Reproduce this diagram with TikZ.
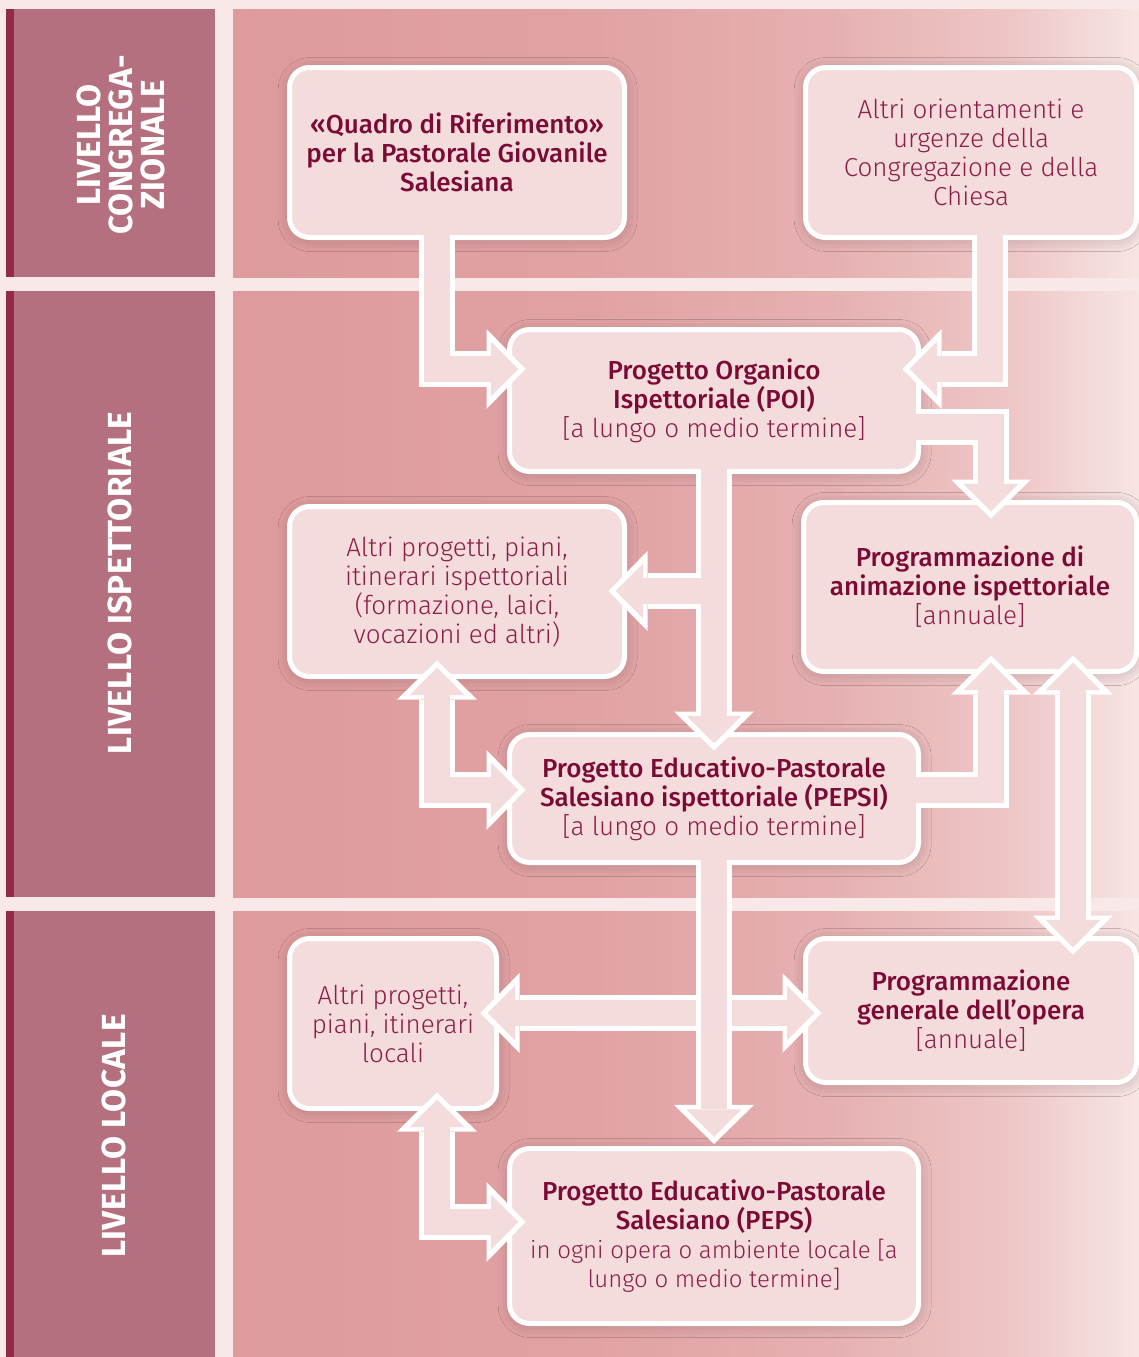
\documentclass[tikz,border=0pt]{standalone}
\usepackage{fontspec}
\usepackage{xcolor}
\usetikzlibrary{arrows.meta,shadows.blur}
\newfontfamily\medfont{Fira Sans Medium}
\newfontfamily\lightfont{Fira Sans Light}
\newfontfamily\bandfont{Fira Sans}[UprightFont={* Bold}, LetterSpace=1]
\definecolor{pageBg}{HTML}{F8E9E8}
\definecolor{bandCol}{HTML}{B4707E}
\definecolor{stripeCol}{HTML}{922A4C}
\definecolor{boxFill}{HTML}{F5DCDC}
\definecolor{textDark}{HTML}{7C0A36}
\definecolor{textLight}{HTML}{8C1E4A}
\definecolor{panelA}{HTML}{DE9A9C}
\definecolor{panelB}{HTML}{E1A2A4}
\definecolor{panelC}{HTML}{E6B0B1}
\definecolor{panelD}{HTML}{EEC6C6}
\definecolor{panelE}{HTML}{F7E5E4}
\pgfdeclarehorizontalshading{panelShade}{100bp}{color(0bp)=(panelA); color(25bp)=(panelA); color(45bp)=(panelB); color(58bp)=(panelC); color(68bp)=(panelD); color(75bp)=(panelE); color(100bp)=(panelE)}
\newcommand\hdtxt{\medfont\color{textDark}}
\newcommand\smalltxt{\fontsize{18}{21.75}\selectfont}
\tikzset{
  tipO/.tip={Triangle[length=29.25pt, width=60pt, line width=0pt]},
  tipI/.tip={Triangle[length=20.6pt, width=41.2pt, line width=0pt]}
}

\begin{document}
\begin{tikzpicture}[
    x=0.75pt, y=-0.75pt,
    box/.style={rectangle, rounded corners=15pt, draw=white, line width=3.75pt, fill=boxFill, outer sep=0pt, inner sep=2pt, align=center, text=textLight, font=\lightfont\fontsize{19.5}{21.75}\selectfont, blur shadow={shadow xshift=0.5pt, shadow yshift=-1.5pt, shadow blur radius=9pt, shadow opacity=22}},
    lvl/.style={rotate=90, align=center, text=white, font=\bandfont\fontsize{25}{24}\selectfont},
    fatout/.style={draw=white, line width=27pt, line join=miter, shorten <=-2.25pt, shorten >=-12pt, -tipO},
    fatin/.style={draw=boxFill, line width=19.5pt, line join=miter, shorten <=-2.25pt, shorten >=-6.7pt, -tipI},
    twoout/.style={fatout, shorten <=-12pt, tipO-tipO},
    twoin/.style={fatin, shorten <=-6.7pt, tipI-tipI}
]

% Background, bands and panels
\fill[pageBg] (0,0) rectangle (1139,1357);
\shade[shading=panelShade] (233,9) rectangle (1139,277);
\shade[shading=panelShade] (233,291) rectangle (1139,897);
\shade[shading=panelShade] (233,911) rectangle (1139,1357);
\fill[bandCol] (6,9) rectangle (215,277);
\fill[bandCol] (6,291) rectangle (215,897);
\fill[bandCol] (6,911) rectangle (215,1357);
\fill[stripeCol] (6,9) rectangle (14,277);
\fill[stripeCol] (6,291) rectangle (14,897);
\fill[stripeCol] (6,911) rectangle (14,1357);

% Level labels
\node[lvl] (lvlCong) at (121,145) {LIVELLO\\CONGREGA-\\ZIONALE};
\node[lvl] (lvlIsp)  at (120,583) {LIVELLO ISPETTORIALE};
\node[lvl] (lvlLoc)  at (114,1136) {LIVELLO LOCALE};

% Congregational level
\node[box, minimum width=251.25pt, minimum height=127.5pt] (quadro) at (457,152.5)
    {\hdtxt «Quadro di Riferimento»\\\hdtxt per la Pastorale Giovanile\\\hdtxt Salesiana};
\node[box, minimum width=248.25pt, minimum height=127.5pt] (altriOr) at (971,152.5)
    {Altri orientamenti e\\urgenze della\\Congregazione e della\\Chiesa};

% Provincial level
\node[box, minimum width=306.75pt, minimum height=106.5pt] (poi) at (714,400.5)
    {\hdtxt Progetto Organico\\\hdtxt Ispettoriale (POI)\\{}[a lungo o medio termine]};
\node[box, minimum width=249.75pt, minimum height=126.75pt] (progAn) at (970,587)
    {\hdtxt Programmazione di\\\hdtxt animazione ispettoriale\\{}[annuale]};
\node[box, minimum width=251.25pt, minimum height=127.5pt] (altriIsp) at (457,591.5)
    {Altri progetti, piani,\\itinerari ispettoriali\\(formazione, laici,\\vocazioni ed altri)};
\node[box, minimum width=306.75pt, minimum height=96pt] (pepsi) at (714,798.5)
    {\hdtxt Progetto Educativo-Pastorale\\\hdtxt Salesiano ispettoriale (PEPSI)\\{}[a lungo o medio termine]};

% Local level
\node[box, minimum width=155.25pt, minimum height=127.5pt] (altriLoc) at (393,1023.5)
    {Altri progetti,\\piani, itinerari\\locali};
\node[box, minimum width=248.25pt, minimum height=108pt] (progGen) at (971,1010.5)
    {\hdtxt Programmazione\\\hdtxt generale dell’opera\\{}[annuale]};
\node[box, minimum width=306.75pt, minimum height=131.25pt] (peps) at (714,1236)
    {\hdtxt Progetto Educativo-Pastorale\\\hdtxt Salesiano (PEPS)\\\smalltxt in ogni opera o ambiente locale [a\\\smalltxt lungo o medio termine]};

% Bends of the connectors
\coordinate (b1) at (437,369);
\coordinate (b2) at (990,369);
\coordinate (b3) at (991,427);
\coordinate (b5) at (714,591);
\coordinate (b6) at (437,790);
\coordinate (b7) at (991,790);
\coordinate (b8) at (1073,800);
\coordinate (b10) at (714,1013);
\coordinate (b11) at (437,1222);

% Congregation to province
\draw[fatout] (quadro.south -| b1) -- (b1) -- (poi.west |- b1);
\draw[fatin]  (quadro.south -| b1) -- (b1) -- (poi.west |- b1);
\draw[fatout] (altriOr.south -| b2) -- (b2) -- (poi.east |- b2);
\draw[fatin]  (altriOr.south -| b2) -- (b2) -- (poi.east |- b2);
\draw[fatout] (poi.east |- b3) -- (b3) -- (progAn.north -| b3);
\draw[fatin]  (poi.east |- b3) -- (b3) -- (progAn.north -| b3);

% POI to PEPSI, with branch
\draw[fatout] (poi.south) -- (pepsi.north);
\draw[fatout] (b5) -- (altriIsp.east |- b5);
\draw[fatin]  (poi.south) -- (pepsi.north);
\draw[fatin]  (b5) -- (altriIsp.east |- b5);

% Around PEPSI
\draw[twoout] (altriIsp.south -| b6) -- (b6) -- (pepsi.west |- b6);
\draw[twoin]  (altriIsp.south -| b6) -- (b6) -- (pepsi.west |- b6);
\draw[fatout] (pepsi.east |- b7) -- (b7) -- (progAn.south -| b7);
\draw[fatin]  (pepsi.east |- b7) -- (b7) -- (progAn.south -| b7);
\draw[twoout] (progAn.south -| b8) -- (progGen.north -| b8);
\draw[twoin]  (progAn.south -| b8) -- (progGen.north -| b8);

% Local level
\draw[twoout] (altriLoc.east |- b10) -- (progGen.west |- b10);
\draw[twoin]  (altriLoc.east |- b10) -- (progGen.west |- b10);
\draw[fatout, shorten >=3.4pt] (pepsi.south) -- (peps.north);
\draw[fatin, shorten >=8.7pt]  (pepsi.south) -- (peps.north);
\draw[twoout] (altriLoc.south -| b11) -- (b11) -- (peps.west |- b11);
\draw[twoin]  (altriLoc.south -| b11) -- (b11) -- (peps.west |- b11);

\end{tikzpicture}
\end{document}
